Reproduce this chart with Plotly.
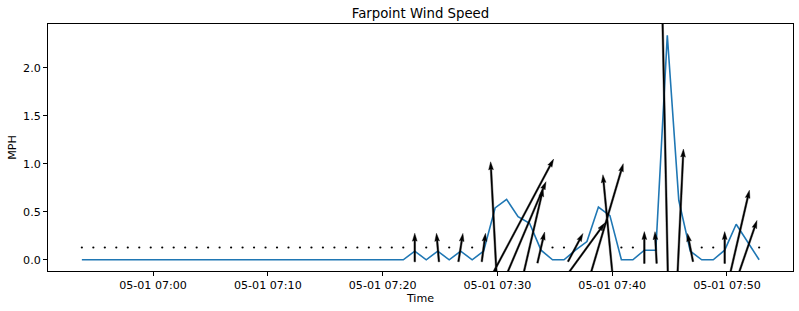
import math
import pandas as pd
import plotly.graph_objects as go

# ---------------- data ----------------
START_TIME = "2023-05-01 06:53:48"
SAMPLE_MINUTES = 1

speed_mph = [
    0, 0, 0, 0, 0, 0, 0, 0, 0, 0,
    0, 0, 0, 0, 0, 0, 0, 0, 0, 0,
    0, 0, 0, 0, 0, 0, 0, 0, 0, 0.09,
    0, 0.09, 0, 0.09, 0, 0.09, 0.54, 0.63, 0.45, 0.38,
    0.10, 0, 0, 0.10, 0.19, 0.55, 0.46, 0, 0, 0.10,
    0.10, 2.34, 0.62, 0.09, 0, 0, 0.10, 0.37, 0.18, 0,
]

# direction the wind blows toward, degrees clockwise from north (arrow heading)
heading_deg = [
    0, 0, 0, 0, 0, 0, 0, 0, 0, 0,
    0, 0, 0, 0, 0, 0, 0, 0, 0, 0,
    0, 0, 0, 0, 0, 0, 0, 0, 0, 0,
    0, 355, 0, 9, 0, 7.5, 357, 28, 23, 13,
    13, 0, 0, 28, 36, 16.5, 354.5, 0, 0, 0,
    357, 358.8, 2.7, 349, 0, 0, 0, 13, 19, 0,
]

TITLE = "Farpoint Wind Speed"
X_LABEL = "Time"
Y_LABEL = "MPH"

# ---------------- style / geometry ----------------
W, H = 799, 311
ML, MR, MT, MB = 48, 6, 24, 40
PLOT_W = W - ML - MR
PLOT_H = H - MT - MB
LINE_COLOR = "#1f77b4"
QUIVER_PX_PER_MPH = 318.0
SHAFT_W = 1.6
HEAD_W = 3 * SHAFT_W
HEAD_L = 5 * SHAFT_W
HEAD_AXL = 4.5 * SHAFT_W

times = pd.date_range(START_TIME, periods=len(speed_mph), freq=f"{SAMPLE_MINUTES}min")

# autoscale like matplotlib (5% margins)
t0, t1 = times.min(), times.max()
tspan = t1 - t0
x_lo, x_hi = t0 - 0.05 * tspan, t1 + 0.05 * tspan
y_lo_d, y_hi_d = min(speed_mph), max(speed_mph)
yspan = y_hi_d - y_lo_d
y_lo, y_hi = y_lo_d - 0.05 * yspan, y_hi_d + 0.05 * yspan

px_per_ms = PLOT_W / ((x_hi - x_lo).total_seconds() * 1000.0)
px_per_unit = PLOT_H / (y_hi - y_lo)

quiver_y = sum(speed_mph) / len(speed_mph)


def fmt(t):
    return t.strftime("%Y-%m-%d %H:%M:%S.%f")


# ---------------- quiver polygons ----------------
poly_x, poly_y = [], []
dot_x, dot_y = [], []
for t, s, h in zip(times, speed_mph, heading_deg):
    if s <= 0:
        dot_x.append(fmt(t))
        dot_y.append(quiver_y)
        continue
    L = s * QUIVER_PX_PER_MPH
    local = [
        (0, SHAFT_W / 2), (L - HEAD_AXL, SHAFT_W / 2), (L - HEAD_L, HEAD_W / 2),
        (L, 0), (L - HEAD_L, -HEAD_W / 2), (L - HEAD_AXL, -SHAFT_W / 2),
        (0, -SHAFT_W / 2), (0, SHAFT_W / 2),
    ]
    r = math.radians(h)
    dx, dy = math.sin(r), math.cos(r)  # along (x right, y up)
    px_, py_ = math.cos(r), -math.sin(r)  # perpendicular
    for a, b in local:
        a = a - L / 2  # pivot middle
        ox = a * dx + b * px_
        oy = a * dy + b * py_
        tt = t + pd.Timedelta(milliseconds=ox / px_per_ms)
        poly_x.append(fmt(tt))
        poly_y.append(quiver_y + oy / px_per_unit)
    poly_x.append(None)
    poly_y.append(None)

fig = go.Figure()
fig.add_trace(go.Scatter(
    x=[fmt(t) for t in times], y=speed_mph, mode="lines",
    line=dict(color=LINE_COLOR, width=1.6), hoverinfo="skip",
))
fig.add_trace(go.Scatter(
    x=poly_x, y=poly_y, mode="lines", fill="toself", fillcolor="black",
    line=dict(color="black", width=0.4), hoverinfo="skip",
))
fig.add_trace(go.Scatter(
    x=dot_x, y=dot_y, mode="markers",
    marker=dict(color="black", size=2.2, line=dict(width=0)), hoverinfo="skip",
))

axis_common = dict(
    showline=True, linecolor="black", linewidth=1, mirror=True,
    ticks="outside", ticklen=4, tickwidth=1, tickcolor="black",
    showgrid=False, zeroline=False,
    tickfont=dict(family="DejaVu Sans", size=11.1, color="black"),
)

fig.update_layout(
    width=W, height=H,
    margin=dict(l=ML, r=MR, t=MT, b=MB, pad=0),
    paper_bgcolor="white", plot_bgcolor="white",
    showlegend=False,
    font=dict(family="DejaVu Sans", size=11.1, color="black"),
    title=dict(text=TITLE, x=0.5, xref="paper", xanchor="center",
               y=1, yref="paper", yanchor="bottom", pad=dict(b=6),
               font=dict(family="DejaVu Sans", size=13.3, color="black")),
    xaxis=dict(
        type="date", range=[fmt(x_lo), fmt(x_hi)],
        tick0="2023-05-01 07:00:00", dtick=10 * 60 * 1000,
        tickformat="%m-%d %H:%M",
        title=dict(text=X_LABEL, standoff=1, font=dict(size=11.1)),
        automargin=False, **axis_common,
    ),
    yaxis=dict(
        range=[y_lo, y_hi], tick0=0, dtick=0.5, tickformat=".1f",
        title=dict(text=Y_LABEL, standoff=4, font=dict(size=11.1)),
        automargin=False, **axis_common,
    ),
)

fig.write_html("out.html", config={"displayModeBar": False},
               post_script="document.body.style.margin='0px';")
